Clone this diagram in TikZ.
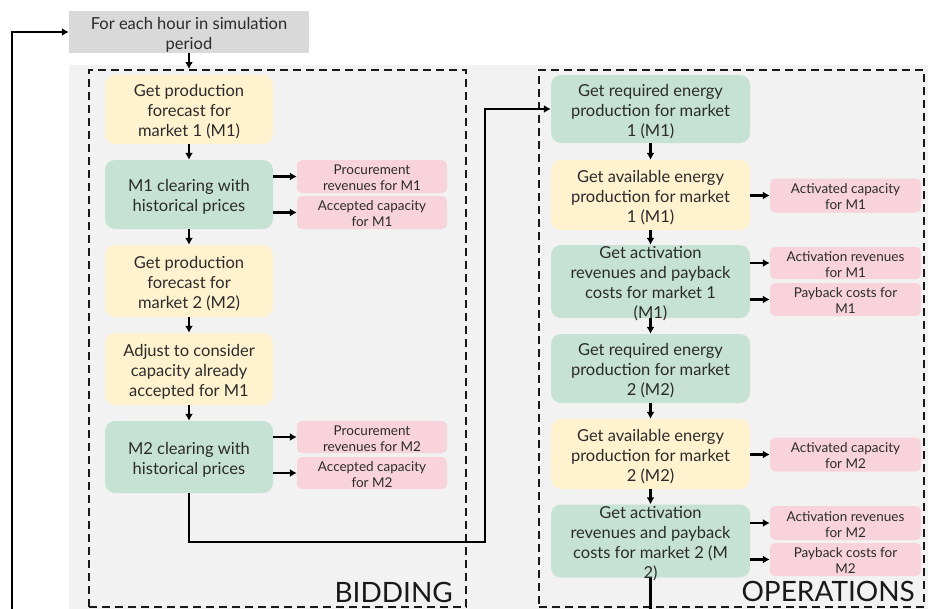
\documentclass[tikz,border=0pt]{standalone}
\usepackage{fontspec}
\setmainfont{Lato}
\usetikzlibrary{arrows.meta}
\definecolor{ylw}{HTML}{FFF2CF}
\definecolor{grn}{HTML}{C6E2D4}
\definecolor{pnk}{HTML}{F8D3DC}
\definecolor{hdr}{HTML}{D9D9D9}
\definecolor{bgc}{HTML}{F2F2F2}
\definecolor{txt}{HTML}{2B2B2B}
% #1 style, #2 name, #3 position, #4 width, #5 height, #6 text
\newcommand\mkbox[6]{%
  \node[#1, minimum width=#4, minimum height=#5] (#2) at #3 {};
  \node[#1txt] (#2t) at (#2) {#6};}
\begin{document}
\begin{tikzpicture}[x=1pt,y=-1pt,
  mainbox/.style={rounded corners=10pt, draw=none, inner sep=0pt},
  ybox/.style={mainbox, fill=ylw},
  gbox/.style={mainbox, fill=grn},
  pbox/.style={rounded corners=5pt, fill=pnk, inner sep=0pt},
  hdrbox/.style={fill=hdr, inner sep=0pt},
  plain/.style={text=txt, align=center, inner sep=0pt, font=\fontsize{16.5}{20}\selectfont, yshift=-2.5pt},
  yboxtxt/.style={plain},
  gboxtxt/.style={plain},
  hdrboxtxt/.style={plain, yshift=-0.5pt},
  pboxtxt/.style={text=txt, align=center, inner sep=0pt, font=\fontsize{13.5}{16}\selectfont, yshift=-1.5pt},
  dashbox/.style={draw=black!90, line width=2pt, dash pattern=on 8pt off 5pt, inner sep=0pt},
  arr/.style={draw=black, line width=2.2pt, -{Latex[length=7pt,width=8pt]}},
  lbl/.style={text=black!90, inner sep=0pt, font=\fontsize{28}{30}\selectfont},
]
\useasboundingbox (0,0) rectangle (928,608);
\clip (0,0) rectangle (928,608);
% background
\fill[bgc] (69,65) rectangle (928,612);
% header
\mkbox{hdrbox}{top}{(189,32)}{240}{42}{For each hour in simulation\\period}
% dashed regions
\node[dashbox, minimum width=377, minimum height=537] (bid) at (277.5,338.5) {};
\node[dashbox, minimum width=385, minimum height=537] (ops) at (731.5,338.5) {};
\node[lbl, anchor=base east] (bidl) at (453,602) {BIDDING};
\node[lbl, anchor=base east] (opsl) at (915,601) {OPERATIONS};
% left column
\mkbox{ybox}{l1}{(189,109.5)}{168}{69}{Get production\\forecast for\\market 1 (M1)}
\mkbox{gbox}{l2}{(189,194.5)}{168}{69}{M1 clearing with\\historical prices}
\mkbox{ybox}{l3}{(189,281)}{168}{72}{Get production\\forecast for\\market 2 (M2)}
\mkbox{ybox}{l4}{(189,369)}{168}{72}{Adjust to consider\\capacity already\\accepted for M1}
\mkbox{gbox}{l5}{(189,457)}{168}{72}{M2 clearing with\\historical prices}
\mkbox{pbox}{p1}{(372,176.5)}{150}{33}{Procurement\\revenues for M1}
\mkbox{pbox}{p2}{(372,212.5)}{150}{33}{Accepted capacity\\for M1}
\mkbox{pbox}{p3}{(372,437)}{150}{32}{Procurement\\revenues for M2}
\mkbox{pbox}{p4}{(372,473)}{150}{32}{Accepted capacity\\for M2}
% right column
\mkbox{gbox}{r1}{(650.5,109)}{199}{68}{Get required energy\\production for market\\1 (M1)}
\mkbox{ybox}{r2}{(650.5,195)}{199}{70}{Get available energy\\production for market\\1 (M1)}
\mkbox{gbox}{r3}{(650.5,281.5)}{199}{73}{Get activation\\revenues and payback\\costs for market 1\\(M1)}
\mkbox{gbox}{r4}{(650.5,368.5)}{199}{69}{Get required energy\\production for market\\2 (M2)}
\mkbox{ybox}{r5}{(650.5,454)}{199}{70}{Get available energy\\production for market\\2 (M2)}
\mkbox{gbox}{r6}{(650.5,541)}{199}{73}{Get activation\\revenues and payback\\costs for market 2 (M\\2)}
\mkbox{pbox}{q1}{(845.5,195.5)}{151}{34}{Activated capacity\\for M1}
\mkbox{pbox}{q2}{(845.5,263)}{151}{32}{Activation revenues\\for M1}
\mkbox{pbox}{q3}{(845.5,299.5)}{151}{33}{Payback costs for\\M1}
\mkbox{pbox}{q4}{(845.5,454.5)}{151}{34}{Activated capacity\\for M2}
\mkbox{pbox}{q5}{(845.5,523)}{151}{34}{Activation revenues\\for M2}
\mkbox{pbox}{q6}{(845.5,559.5)}{151}{33}{Payback costs for\\M2}
% connectors
\draw[arr] (top.south) -- (top.south |- bid.north);
\draw[arr] (l1) -- (l2);
\draw[arr] (l2) -- (l3);
\draw[arr] (l3) -- (l4);
\draw[arr] (l4) -- (l5);
\draw[arr] (l2.east |- p1) -- (p1.west);
\draw[arr] (l2.east |- p2) -- (p2.west);
\draw[arr] (l5.east |- p3) -- (p3.west);
\draw[arr] (l5.east |- p4) -- (p4.west);
\coordinate (bend) at (485,542);
\draw[arr] (l5.south) |- (bend) |- (r1.west);
\draw[arr] (r1) -- (r2);
\draw[arr] (r2) -- (r3);
\draw[arr] (r3) -- (r4);
\draw[arr] (r4) -- (r5);
\draw[arr] (r5) -- (r6);
\draw[arr] (r2.east |- q1) -- (q1.west);
\draw[arr] (r3.east |- q2) -- (q2.west);
\draw[arr] (r3.east |- q3) -- (q3.west);
\draw[arr] (r5.east |- q4) -- (q4.west);
\draw[arr] (r6.east |- q5) -- (q5.west);
\draw[arr] (r6.east |- q6) -- (q6.west);
\coordinate (loop) at (12,640);
\draw[arr] (r6.south) |- (loop) |- (top.west);
\end{tikzpicture}
\end{document}
